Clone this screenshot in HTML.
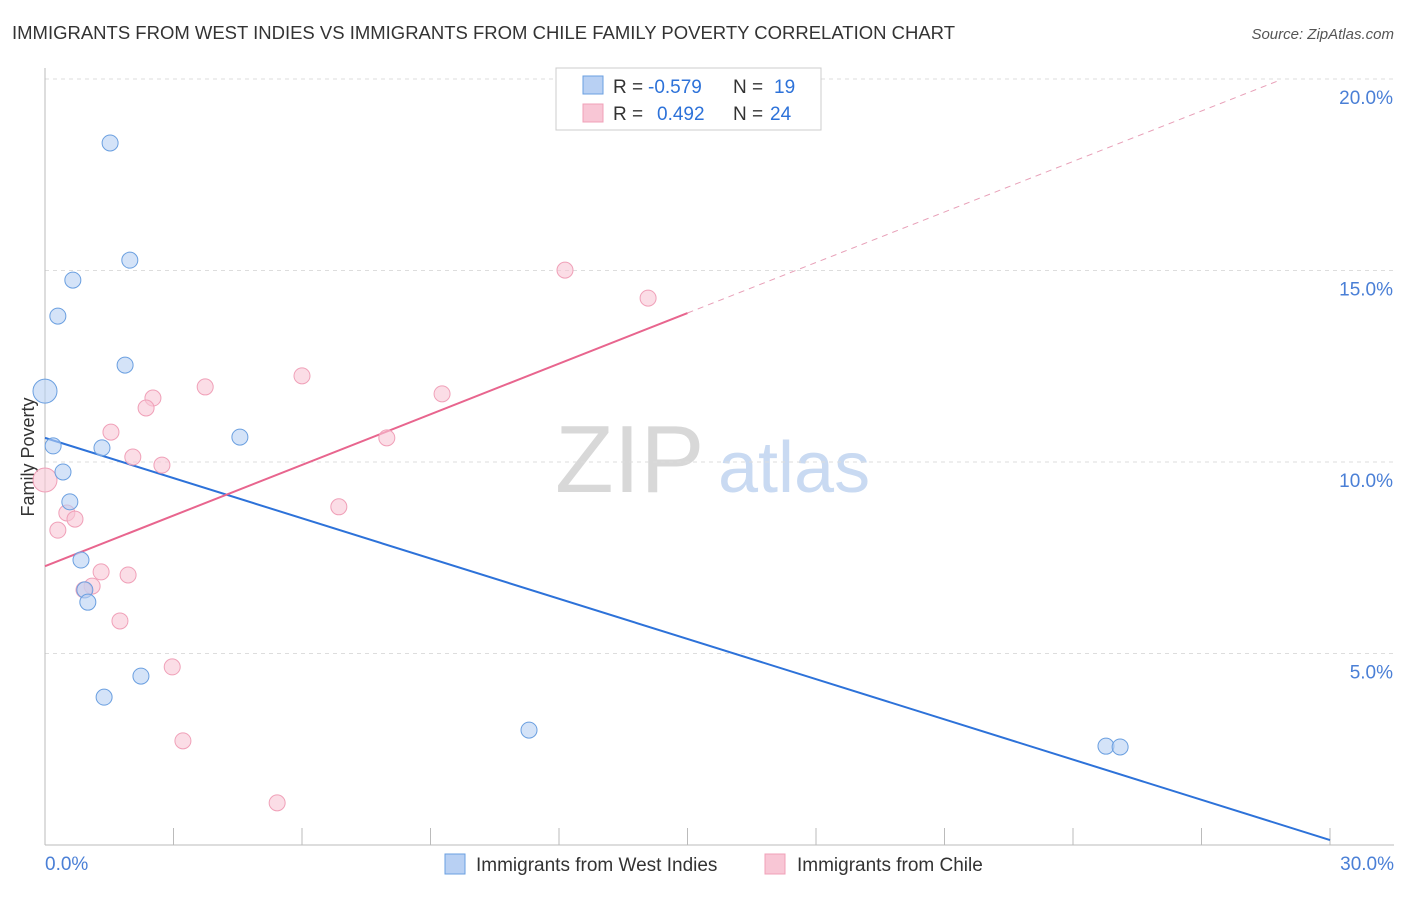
<!DOCTYPE html>
<html><head><meta charset="utf-8"><style>
body{margin:0;background:#fff;font-family:"Liberation Sans",sans-serif;}
svg text{font-family:"Liberation Sans",sans-serif;}
</style></head><body>
<svg id="chart" width="1406" height="892" viewBox="0 0 1406 892">
<text x="12" y="39" font-size="18" fill="#333" textLength="943" lengthAdjust="spacingAndGlyphs">IMMIGRANTS FROM WEST INDIES VS IMMIGRANTS FROM CHILE FAMILY POVERTY CORRELATION CHART</text>
<text x="1394" y="39" font-size="15" fill="#555" font-style="italic" text-anchor="end">Source: ZipAtlas.com</text>
<text x="34" y="457" font-size="18" fill="#333" text-anchor="middle" transform="rotate(-90 34 457)">Family Poverty</text>
<text x="555" y="492" font-size="96" fill="#d8d8d8" font-family="Liberation Serif">ZIP</text>
<text x="718" y="492" font-size="72" fill="#c9daf2">atlas</text>
<g id="grid"></g>
<g id="lines"></g>
<g id="points"></g>
<g>
<rect x="556" y="68" width="265" height="62" fill="#fff" stroke="#ccc"/>
<rect x="583" y="76" width="20" height="18" fill="#b8d0f3" stroke="#6a9fe0"/>
<text x="613" y="93" font-size="19" fill="#333">R =</text>
<text x="648" y="93" font-size="19" fill="#2d72d9">-0.579</text>
<text x="733" y="93" font-size="19" fill="#333">N =</text>
<text x="774" y="93" font-size="19" fill="#2d72d9">19</text>
<rect x="583" y="104" width="20" height="18" fill="#f8c6d5" stroke="#f0a0b8"/>
<text x="613" y="120" font-size="19" fill="#333">R =</text>
<text x="657" y="120" font-size="19" fill="#2d72d9">0.492</text>
<text x="733" y="120" font-size="19" fill="#333">N =</text>
<text x="770" y="120" font-size="19" fill="#2d72d9">24</text>
</g>
<g>
<rect x="445" y="854" width="20" height="20" fill="#b8d0f3" stroke="#6a9fe0"/>
<text x="476" y="871" font-size="19" fill="#333">Immigrants from West Indies</text>
<rect x="765" y="854" width="20" height="20" fill="#f8c6d5" stroke="#f0a0b8"/>
<text x="797" y="871" font-size="19" fill="#333">Immigrants from Chile</text>
</g>
</svg>
<script>
const blueX=[1.52,1.98,0.65,0.30,1.87,0,4.55,0.19,1.33,0.42,0.58,0.84,0.93,1.0,2.24,1.38,11.3,24.77,25.1];
const blueY=[18.33,15.27,14.75,13.81,12.53,11.85,10.65,10.42,10.37,9.74,8.96,7.44,6.66,6.34,4.41,3.86,3.0,2.58,2.56];
const pinkX=[12.14,14.08,6.0,3.74,9.27,2.52,2.36,1.54,7.98,2.05,2.73,0,6.86,0.51,0.70,0.30,1.31,1.94,1.10,0.91,1.75,2.97,3.22,5.42];
const pinkY=[15.01,14.28,12.25,11.96,11.78,11.67,11.41,10.78,10.63,10.13,9.92,9.53,8.83,8.67,8.51,8.22,7.13,7.05,6.76,6.66,5.85,4.65,2.72,1.10];
const yTicks=[5,10,15,20];
const yTickLabels=["5.0%","10.0%","15.0%","20.0%"];
const blueLine=[10.63,0.13];
const pinkLine=[7.28,13.89,19.97];
const NS="http://www.w3.org/2000/svg";
function sx(v){return 45+v*1285/30;}
function sy(v){return 845-v*38.3;}
function mk(tag,attrs,parent){const e=document.createElementNS(NS,tag);for(const k in attrs)e.setAttribute(k,attrs[k]);parent.appendChild(e);return e;}
const grid=document.getElementById('grid');
yTicks.forEach((t,i)=>{
 const l=mk('line',{x1:45,x2:1394,y1:sy(t),y2:sy(t),stroke:'#ddd','stroke-dasharray':'4,4'},grid);
 
 
 const tx=mk('text',{x:1393,y:sy(t)+25,'font-size':19,fill:'#4a7fd6','text-anchor':'end'},grid);
 tx.textContent=yTickLabels[i];
 
 
});
const ax=mk('line',{x1:45,x2:45,y1:68,y2:845,stroke:'#bbb'},grid);


const bx=mk('line',{x1:45,x2:1394,y1:845,y2:845,stroke:'#bbb'},grid);


for(let i=0;i<=10;i++){const t=mk('line',{x1:sx(i*3),x2:sx(i*3),y1:828,y2:845,stroke:'#bbb'},grid);
 
 }
const x0=mk('text',{x:45,y:870,'font-size':19,fill:'#4a7fd6'},grid);x0.textContent='0.0%';


const x1=mk('text',{x:1394,y:870,'font-size':19,fill:'#4a7fd6','text-anchor':'end'},grid);x1.textContent='30.0%';


const pts=document.getElementById('points');
function dots(X,Y,fill,stroke,name){X.forEach((x,i)=>{
 const c=mk('circle',{cx:sx(x),cy:sy(Y[i]),r:x===0?12:8,fill:fill,'fill-opacity':0.6,stroke:stroke,'stroke-width':1},pts);
 
 });}
dots(pinkX,pinkY,'#f8c6d5','#f0a0b8','point-chile');
dots(blueX,blueY,'#b8d0f3','#6a9fe0','point-west-indies');
const lines=document.getElementById('lines');
const b=mk('line',{x1:sx(0),y1:sy(blueLine[0]),x2:sx(30),y2:sy(blueLine[1]),stroke:'#2d72d9','stroke-width':2},lines);


const p=mk('line',{x1:sx(0),y1:sy(pinkLine[0]),x2:sx(15),y2:sy(pinkLine[1]),stroke:'#e8658e','stroke-width':2},lines);


const pd=mk('line',{x1:sx(15),y1:sy(pinkLine[1]),x2:sx(28.83),y2:sy(pinkLine[2]),stroke:'#e8a0b8','stroke-width':1,'stroke-dasharray':'6,5'},lines);


</script>
</body></html>
